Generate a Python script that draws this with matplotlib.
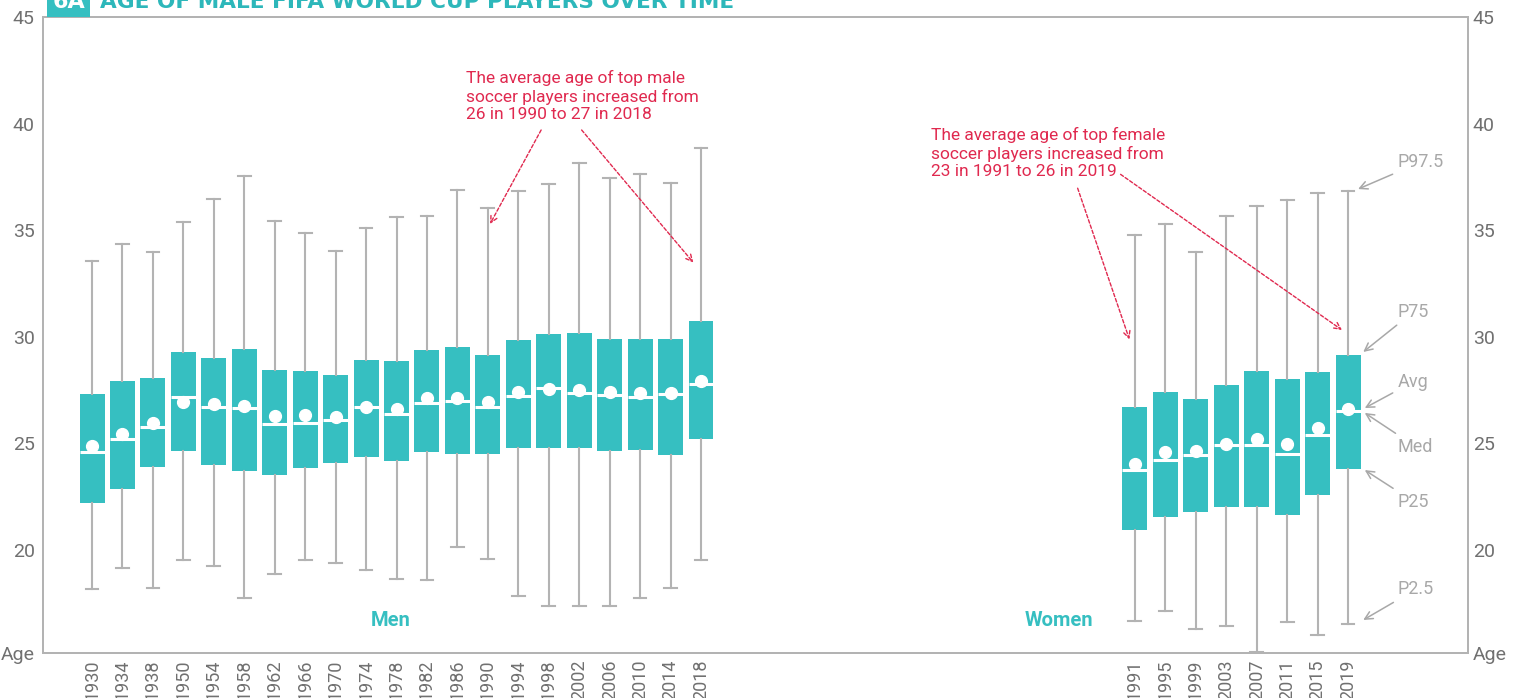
"""
plot.py  —  Box plots of FIFA World Cup player ages (men vs women).
"""

import numpy as np
import matplotlib
matplotlib.use("Agg")
import matplotlib.pyplot as plt
from matplotlib.patches import Rectangle

# ── Data ──────────────────────────────────────────────────────────────────────
men_years = [1930, 1934, 1938, 1950, 1954, 1958, 1962, 1966, 1970, 1974, 1978,
             1982, 1986, 1990, 1994, 1998, 2002, 2006, 2010, 2014, 2018]
men_p025 = [18.16, 19.16, 18.20, 19.55, 19.25, 17.73, 18.89, 19.55, 19.40, 19.06, 18.65,
            18.58, 20.14, 19.59, 17.86, 17.37, 17.37, 17.36, 17.73, 18.20, 19.55]
men_p25 = [22.22, 22.88, 23.91, 24.66, 24.00, 23.72, 23.53, 23.86, 24.10, 24.38, 24.19,
           24.61, 24.52, 24.52, 24.80, 24.80, 24.80, 24.66, 24.71, 24.47, 25.22]
men_med = [24.58, 25.19, 25.77, 27.18, 26.71, 26.64, 25.89, 25.94, 26.10, 26.69, 26.36,
           26.89, 26.97, 26.71, 27.22, 27.61, 27.35, 27.25, 27.18, 27.32, 27.77]
men_avg = [24.89, 25.46, 25.94, 26.94, 26.85, 26.77, 26.29, 26.32, 26.25, 26.72, 26.61,
           27.15, 27.15, 26.93, 27.40, 27.55, 27.49, 27.40, 27.38, 27.35, 27.94]
men_p75 = [27.32, 27.93, 28.07, 29.29, 29.01, 29.43, 28.44, 28.40, 28.21, 28.91, 28.86,
           29.38, 29.52, 29.15, 29.85, 30.13, 30.18, 29.90, 29.90, 29.90, 30.74]
men_p975 = [33.56, 34.37, 33.98, 35.37, 36.48, 37.56, 35.42, 34.88, 34.01, 35.12, 35.63,
            35.65, 36.87, 36.03, 36.82, 37.18, 38.15, 37.43, 37.64, 37.23, 38.87]

women_years = [1991, 1995, 1999, 2003, 2007, 2011, 2015, 2019]
women_p025 = [16.68, 17.15, 16.28, 16.45, 15.20, 16.64, 16.00, 16.51]
women_p25 = [20.95, 21.56, 21.80, 22.03, 22.03, 21.66, 22.60, 23.81]
women_med = [23.74, 24.21, 24.47, 24.94, 24.94, 24.50, 25.41, 26.50]
women_avg = [24.03, 24.60, 24.64, 24.96, 25.19, 24.96, 25.71, 26.60]
women_p75 = [26.71, 27.41, 27.08, 27.74, 28.40, 28.02, 28.35, 29.15]
women_p975 = [34.79, 35.28, 33.99, 35.65, 36.12, 36.40, 36.73, 36.85]

y_ticks = [20, 25, 30, 35, 40, 45]
key_labels = ["P97.5", "P75", "Avg", "Med", "P25", "P2.5"]

men_note = "The average age of top male\nsoccer players increased from\n26 in 1990 to 27 in 2018"
women_note = "The average age of top female\nsoccer players increased from\n23 in 1991 to 26 in 2019"

# ── Style ─────────────────────────────────────────────────────────────────────
TEAL = "#36bfc1"
TITLE_TEAL = "#2db7ba"
RED = "#e0294f"
GREY = "#b3b3b3"
KEY_GREY = "#a8a8a8"
TICK_GREY = "#707070"
plt.rcParams["font.family"] = ["Roboto", "DejaVu Sans"]

Y_MIN, Y_MAX = 15.17, 45

men_pos = np.arange(len(men_years), dtype=float)
women_pos = 34.25 + np.arange(len(women_years), dtype=float)


def make_stats(p025, p25, med, avg, p75, p975):
    return [dict(whislo=a, q1=b, med=c, mean=d, q3=e, whishi=f, fliers=[])
            for a, b, c, d, e, f in zip(p025, p25, med, avg, p75, p975)]


fig = plt.figure(figsize=(15.14, 6.98), dpi=100)
ax = fig.add_axes([43 / 1514, 1 - 653 / 698, (1468 - 43) / 1514, (653 - 17) / 698])

box_kw = dict(
    widths=0.82, patch_artist=True, showmeans=True, showfliers=False,
    boxprops=dict(facecolor=TEAL, edgecolor="none", linewidth=0),
    whiskerprops=dict(color=GREY, linewidth=1.5),
    capprops=dict(color=GREY, linewidth=1.5),
    medianprops=dict(color="white", linewidth=2.2),
    meanprops=dict(marker="o", markerfacecolor="white", markeredgecolor="white",
                   markersize=8.5),
    capwidths=0.42,
)
ax.bxp(make_stats(men_p025, men_p25, men_med, men_avg, men_p75, men_p975),
       positions=men_pos, **box_kw)
ax.bxp(make_stats(women_p025, women_p25, women_med, women_avg, women_p75, women_p975),
       positions=women_pos, **box_kw)

ax.set_xlim(-1.61, 45.19)
ax.set_ylim(Y_MIN, Y_MAX)

# ── Axes / ticks ──────────────────────────────────────────────────────────────
ax.set_xticks(list(men_pos) + list(women_pos))
ax.set_xticklabels([str(y) for y in men_years + women_years], rotation=90,
                   fontsize=13, color=TICK_GREY, va="top")
ax.tick_params(axis="x", length=0, pad=5)

y_labels = ["Age"] + [str(t) for t in y_ticks]
ax.set_yticks([Y_MIN] + y_ticks)
ax.set_yticklabels(y_labels, fontsize=14, color=TICK_GREY)
ax.tick_params(axis="y", length=0, pad=6)

# right-hand copy of the age scale
ax_r = ax.twinx()
ax_r.set_ylim(Y_MIN, Y_MAX)
ax_r.set_yticks([Y_MIN] + y_ticks)
ax_r.set_yticklabels(y_labels, fontsize=14, color=TICK_GREY)
ax_r.tick_params(axis="y", length=0, pad=3.5)

for a in (ax, ax_r):
    for side in a.spines.values():
        side.set_color(GREY)
        side.set_linewidth(1.3)

# ── Group labels ──────────────────────────────────────────────────────────────
ax.text(men_pos.mean() - 0.2, 16.7, "Men", color=TEAL, fontsize=14.5, fontweight="bold",
        ha="center", va="center")
ax.text(women_pos[0] - 2.5, 16.7, "Women", color=TEAL, fontsize=14.5, fontweight="bold",
        ha="center", va="center")

# ── Red notes ─────────────────────────────────────────────────────────────────
note_kw = dict(color=RED, fontsize=12.5, ha="left", va="center", linespacing=1.22)
ax.text(12.28, 41.29, men_note, **note_kw)
ax.text(27.55, 38.62, women_note, **note_kw)

red_arrow = dict(arrowstyle="->", color=RED, linewidth=1.0, linestyle=(0, (2.5, 1.5)),
                 shrinkA=0, shrinkB=0, mutation_scale=12)
i90 = men_years.index(1990)
ax.annotate("", xy=(men_pos[i90] + 0.07, 35.29), xytext=(14.75, 39.70), arrowprops=red_arrow)
ax.annotate("", xy=(men_pos[-1] - 0.25, 33.48), xytext=(16.08, 39.70), arrowprops=red_arrow)
ax.annotate("", xy=(women_pos[0] - 0.18, 29.88), xytext=(32.37, 36.97), arrowprops=red_arrow)
ax.annotate("", xy=(women_pos[-1] - 0.2, 30.32), xytext=(33.78, 37.62), arrowprops=red_arrow)

# ── Key for the last women's box ──────────────────────────────────────────────
last = women_pos[-1]
key_targets = [
    (women_p975[-1] + 0.08, 38.2, 0.33),
    (women_p75[-1] + 0.14, 31.18, 0.5),
    (women_avg[-1] + 0.06, 27.89, 0.55),
    (women_med[-1] - 0.07, 24.85, 0.55),
    (women_p25[-1] - 0.06, 22.27, 0.55),
    (women_p025[-1] + 0.21, 18.16, 0.5),
]
grey_arrow = dict(arrowstyle="->", color=KEY_GREY, linewidth=1.1, shrinkA=2, shrinkB=0,
                  mutation_scale=14)
for label, (ty, ly, dx) in zip(key_labels, key_targets):
    ax.annotate(label, xy=(last + dx, ty), xytext=(last + 1.64, ly),
                color=KEY_GREY, fontsize=13, ha="left", va="center",
                arrowprops=grey_arrow)

# ── Title (cropped at top as in the source) ──────────────────────────────────
fig.patches.append(Rectangle((47 / 1514, 1 - 16.5 / 698), 43 / 1514, 30 / 698,
                             transform=fig.transFigure, facecolor=TEAL,
                             edgecolor="none"))
fig.text(68.5 / 1514, 1 - 2.5 / 698, "6A", color="white", fontsize=16, fontweight="bold",
         ha="center", va="center", family="DejaVu Sans")
fig.text(100 / 1514, 1 - 2.5 / 698, "AGE OF MALE FIFA WORLD CUP PLAYERS OVER TIME",
         color=TITLE_TEAL, fontsize=15.6, fontweight="bold", ha="left", va="center",
         family="DejaVu Sans")

fig.savefig("out.png", dpi=100)
